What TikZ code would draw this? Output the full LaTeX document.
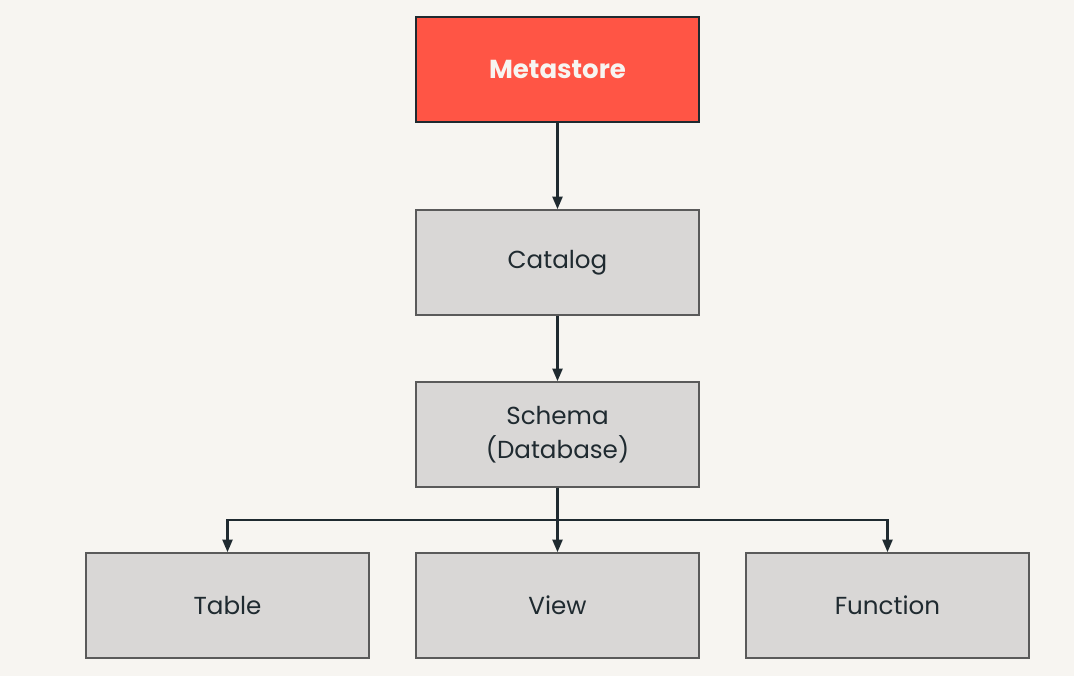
\documentclass[tikz,border=0pt]{standalone}
\usepackage{fontspec}
\setmainfont{Poppins}
\usetikzlibrary{arrows.meta}
\definecolor{bgpaper}{HTML}{F7F5F1}
\definecolor{metared}{HTML}{FF5545}
\definecolor{boxgray}{HTML}{D9D7D6}
\definecolor{edgegray}{HTML}{5A5A5A}
\definecolor{inkdark}{HTML}{1F2A30}
\tikzset{
  unitbox/.style={draw=edgegray, line width=1pt, fill=boxgray, minimum width=7.075cm,
    minimum height=2.625cm, align=center, text=inkdark, font=\fontsize{17.5}{24}\selectfont},
  rootbox/.style={unitbox, fill=metared, draw=inkdark, text=bgpaper,
    font=\fontsize{18.5}{24}\selectfont\bfseries},
  link/.style={draw=inkdark, line width=1.9pt, -{Triangle[length=9pt,width=7pt]}}
}
\begin{document}
\begin{tikzpicture}[x=0.025cm, y=0.025cm]
  \fill[bgpaper] (0,0) rectangle (1074,676);
  \useasboundingbox (0,0) rectangle (1074,676);
  \node[rootbox] (metastore) at (557.5,606.5) {Metastore};
  \node[unitbox] (catalog) at (557.5,413.5) {Catalog};
  \node[unitbox] (schema) at (557.5,241.5) {Schema\\(Database)};
  \node[unitbox] (table) at (227.5,70.5) {Table};
  \node[unitbox] (view) at (557.5,70.5) {View};
  \node[unitbox] (function) at (887.5,70.5) {Function};
  \coordinate (split) at (557.5,156);
  \draw[link] (metastore) -- (catalog);
  \draw[link] (catalog) -- (schema);
  \draw[link] (schema) -- (view);
  \draw[link] (split) -| (table);
  \draw[link] (split) -| (function);
\end{tikzpicture}
\end{document}
